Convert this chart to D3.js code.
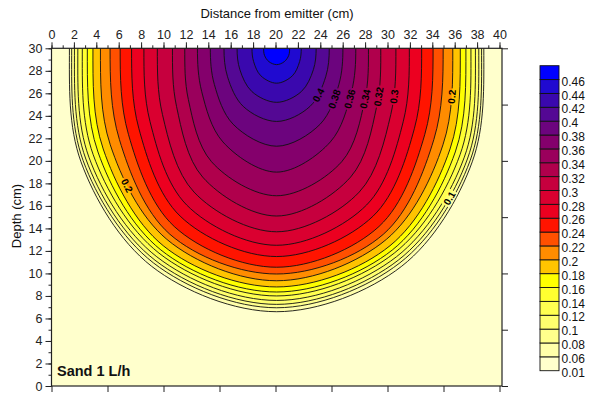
<!DOCTYPE html>
<html>
<head>
<meta charset="utf-8">
<script src="https://cdn.jsdelivr.net/npm/d3@7"></script>
<style>
  html, body { margin: 0; padding: 0; background: #fff; }
  svg { display: block; }
  text { font-family: "Liberation Sans", Arial, Helvetica, sans-serif; }
</style>
</head>
<body>
<svg id="chart" width="592" height="394"></svg>
<script>
// ---- Data -------------------------------------------------------------
// Water-content contour levels (cm3/cm3)
const levels = [0.06, 0.08, 0.10, 0.12, 0.14, 0.16, 0.18, 0.20, 0.22, 0.24, 0.26,
                0.28, 0.30, 0.32, 0.34, 0.36, 0.38, 0.40, 0.42, 0.44, 0.46];
// Lowest class bound shown in the colour scale
const minValue = 0.01;
// Fill for each class: [0.01-0.06], [0.06-0.08], ... , [>0.46]
const bandColors = ["#FFFFCC", "#FFFFAA", "#FFFF8C", "#FFFF6E", "#FFFF50", "#FFFF30",
                    "#FFFF00", "#FFC400", "#FF8C00", "#FF5000", "#FF1400", "#EC0020",
                    "#DA0030", "#C6003E", "#B0004C", "#9A005C", "#84006C", "#6C047E",
                    "#540894", "#3A08AE", "#200AD0", "#0000FF"];
// Emitter position (cm) and soil surface coordinate (cm)
const emitterX = 20.1;
const surfaceY = 30;
// Directions (degrees below the surface) at which each contour's distance is given
const contourAngles = [0, 30, 60, 90];
// Distance (cm) from the emitter to each contour line along those directions
const contourRadii = [
  [18.50, 20.17, 22.35, 23.40],  // 0.06
  [18.30, 19.95, 22.01, 23.05],  // 0.08
  [18.05, 19.67, 21.73, 22.75],  // 0.10
  [17.75, 19.35, 21.39, 22.40],  // 0.12
  [17.35, 18.91, 21.01, 22.00],  // 0.14
  [16.90, 18.42, 20.68, 21.65],  // 0.16
  [16.40, 17.88, 20.25, 21.20],  // 0.18
  [15.73, 17.15, 19.60, 20.65],  // 0.20
  [14.87, 16.21, 19.07, 20.05],  // 0.22
  [13.97, 15.28, 18.28, 19.45],  // 0.24
  [12.95, 14.21, 17.22, 18.50],  // 0.26
  [11.85, 13.05, 16.07, 17.50],  // 0.28
  [10.65, 11.77, 14.75, 16.30],  // 0.30
  [ 9.30, 10.32, 13.21, 14.90],  // 0.32
  [ 8.20,  9.10, 11.63, 13.10],  // 0.34
  [ 7.07,  7.72,  9.60, 11.00],  // 0.36
  [ 5.92,  6.42,  7.78,  8.70],  // 0.38
  [ 4.70,  5.06,  5.96,  6.50],  // 0.40
  [ 3.53,  3.79,  4.43,  4.80],  // 0.42
  [ 2.20,  2.37,  2.82,  3.10],  // 0.44
  [ 1.16,  1.25,  1.37,  1.45]   // 0.46
];
// Axis ticks
const xMajorTicks = d3.range(0, 41, 2);
const xMinorTicks = d3.range(0, 41, 1);
const yMajorTicks = d3.range(0, 31, 2);
const yMinorTicks = d3.range(0, 31, 1);
const xFrameTicks = d3.range(0, 41, 5);
const yFrameTicks = d3.range(0, 31, 5);
// Text
const xTitle = "Distance from emitter (cm)";
const yTitle = "Depth (cm)";
const panelTitle = "Sand 1 L/h";

// ---- Layout -----------------------------------------------------------
const svg = d3.select("#chart");
const frame = { left: 51.5, top: 48.3, right: 502, bottom: 386 };
const x = d3.scaleLinear().domain([0, 40]).range([51.5, 499.5]);
const y = d3.scaleLinear().domain([0, 30]).range([386, 48.3]);

const defs = svg.append("defs");
defs.append("clipPath").attr("id", "plotClip")
  .append("rect")
  .attr("x", frame.left).attr("y", frame.top)
  .attr("width", frame.right - frame.left).attr("height", frame.bottom - frame.top);

// Closed outline of one contour: lower half from the given radii, mirrored above
// the surface so the curve meets the surface square-on (the mirror is clipped).
function outlinePoints(r) {
  const a = contourAngles, pts = [];
  a.forEach((d, j) => pts.push([d, r[j]]));
  for (let j = a.length - 2; j >= 0; j--) pts.push([180 - a[j], r[j]]);
  for (let j = 1; j < a.length; j++) pts.push([180 + a[j], r[j]]);
  for (let j = a.length - 2; j >= 1; j--) pts.push([360 - a[j], r[j]]);
  return pts.map(([deg, rr]) => {
    const t = deg * Math.PI / 180;
    return [emitterX + rr * Math.cos(t), surfaceY - rr * Math.sin(t)];
  });
}
const outline = d3.line()
  .x(d => x(d[0])).y(d => y(d[1]))
  .curve(d3.curveCatmullRomClosed.alpha(0.5));

const plot = svg.append("g").attr("clip-path", "url(#plotClip)");
plot.append("rect")
  .attr("x", frame.left).attr("y", frame.top)
  .attr("width", frame.right - frame.left).attr("height", frame.bottom - frame.top)
  .attr("fill", bandColors[0]);

plot.append("g").selectAll("path").data(levels).join("path")
  .attr("d", (d, i) => outline(outlinePoints(contourRadii[i])))
  .attr("fill", (d, i) => bandColors[i + 1]);

const lineLayer = plot.append("g").attr("mask", "url(#labelMask)");
const lines = lineLayer.selectAll("path").data(levels).join("path")
  .attr("d", (d, i) => outline(outlinePoints(contourRadii[i])))
  .attr("fill", "none")
  .attr("stroke", "#111")
  .attr("stroke-width", 0.9);

// ---- Contour labels (placed where each line crosses a given depth) ------
const labelSpots = [
  { level: 0.40, depth: 25.85, side: 1 }, { level: 0.38, depth: 25.5, side: 1 },
  { level: 0.36, depth: 25.5, side: 1 },  { level: 0.34, depth: 25.5, side: 1 },
  { level: 0.32, depth: 25.7, side: 1 },  { level: 0.30, depth: 25.7, side: 1 },
  { level: 0.20, depth: 25.7, side: 1 },  { level: 0.10, depth: 16.7, side: 1 },
  { level: 0.20, depth: 17.8, side: -1 }
];
const cxPx = x(emitterX), cyPx = y(surfaceY);
const mask = defs.append("mask").attr("id", "labelMask").attr("maskUnits", "userSpaceOnUse")
  .attr("x", 0).attr("y", 0).attr("width", 592).attr("height", 394);
mask.append("rect").attr("width", 592).attr("height", 394).attr("fill", "#fff");
const labelLayer = svg.append("g").attr("clip-path", "url(#plotClip)");

labelSpots.forEach(spot => {
  const node = lines.nodes()[levels.indexOf(spot.level)];
  const len = node.getTotalLength();
  const n = 1500, targetY = y(spot.depth);
  let best = 0, bestErr = Infinity;
  for (let k = 0; k < n; k++) {
    const p = node.getPointAtLength(len * k / n);
    if (p.y < cyPx || (p.x - cxPx) * spot.side <= 0) continue;
    const err = Math.abs(p.y - targetY);
    if (err < bestErr) { bestErr = err; best = k; }
  }
  const p = node.getPointAtLength(len * best / n);
  const p0 = node.getPointAtLength(len * ((best - 4 + n) % n) / n);
  const p1 = node.getPointAtLength(len * ((best + 4) % n) / n);
  let rot = Math.atan2(p1.y - p0.y, p1.x - p0.x) * 180 / Math.PI;
  if (rot > 90) rot -= 180;
  if (rot <= -90) rot += 180;
  const t = labelLayer.append("text")
    .attr("transform", `translate(${p.x},${p.y}) rotate(${rot})`)
    .attr("text-anchor", "middle").attr("dy", "0.36em")
    .attr("font-size", 10).attr("font-weight", "bold").attr("fill", "#000")
    .text(String(spot.level));
  const w = t.node().getComputedTextLength();
  mask.append("rect")
    .attr("transform", `translate(${p.x},${p.y}) rotate(${rot})`)
    .attr("x", -w / 2 - 1.5).attr("y", -5).attr("width", w + 3).attr("height", 10)
    .attr("fill", "#000");
});

// ---- Frame and axes -----------------------------------------------------
svg.append("rect")
  .attr("x", frame.left).attr("y", frame.top)
  .attr("width", frame.right - frame.left).attr("height", frame.bottom - frame.top)
  .attr("fill", "none").attr("stroke", "#222").attr("stroke-width", 1.2);

function styleAxis(g, size) {
  g.select(".domain").remove();
  g.selectAll("line").attr("stroke", "#222").attr("stroke-width", 1);
  g.selectAll("text").attr("font-size", size).attr("fill", "#222")
    .attr("font-family", '"Liberation Sans", Arial, sans-serif');
  g.attr("font-family", null).attr("font-size", null);
}

svg.append("g").attr("transform", `translate(0,${frame.top})`)
  .call(d3.axisTop(x).tickValues(xMinorTicks).tickSize(3).tickFormat(""))
  .call(g => styleAxis(g, 12));
svg.append("g").attr("transform", `translate(0,${frame.top})`)
  .call(d3.axisTop(x).tickValues(xMajorTicks).tickSize(6).tickPadding(3).tickFormat(d3.format("d")))
  .call(g => styleAxis(g, 12.5));

svg.append("g").attr("transform", `translate(${frame.left},0)`)
  .call(d3.axisLeft(y).tickValues(yMinorTicks).tickSize(3).tickFormat(""))
  .call(g => styleAxis(g, 12));
svg.append("g").attr("transform", `translate(${frame.left},0)`)
  .call(d3.axisLeft(y).tickValues(yMajorTicks).tickSize(6).tickPadding(3).tickFormat(d3.format("d")))
  .call(g => styleAxis(g, 12.5));

svg.append("g").attr("transform", `translate(0,${frame.bottom})`)
  .call(d3.axisBottom(x).tickValues(xFrameTicks).tickSize(6).tickFormat(""))
  .call(g => styleAxis(g, 12));
svg.append("g").attr("transform", `translate(${frame.right},0)`)
  .call(d3.axisRight(y).tickValues(yFrameTicks).tickSize(6).tickFormat(""))
  .call(g => styleAxis(g, 12));

svg.append("text")
  .attr("x", 277).attr("y", 18).attr("text-anchor", "middle")
  .attr("font-size", 13).attr("fill", "#111").text(xTitle);
svg.append("text")
  .attr("transform", "translate(21,216) rotate(-90)").attr("text-anchor", "middle")
  .attr("font-size", 13).attr("fill", "#111").text(yTitle);
svg.append("text")
  .attr("x", 57).attr("y", 375.5)
  .attr("font-size", 14.5).attr("font-weight", "bold").attr("fill", "#111").text(panelTitle);

// ---- Colour scale -------------------------------------------------------
const bounds = [minValue].concat(levels);          // class lower bounds, bottom to top
const nBoxes = bandColors.length;
const cb = { x: 540, width: 19, top: 65.7, bottom: 370.7 };
const cbY = d3.scaleLinear().domain([0, nBoxes]).range([cb.bottom, cb.top]);
const legend = svg.append("g");
legend.selectAll("rect").data(bandColors).join("rect")
  .attr("x", cb.x).attr("width", cb.width)
  .attr("y", (d, i) => cbY(i + 1)).attr("height", (d, i) => cbY(i) - cbY(i + 1))
  .attr("fill", d => d).attr("stroke", "#111").attr("stroke-width", 0.9);
legend.selectAll("text").data(bounds).join("text")
  .attr("x", cb.x + cb.width + 2.5)
  .attr("y", (d, i) => cbY(i) + 2)
  .attr("dy", "0.35em")
  .attr("font-size", 12).attr("fill", "#111")
  .text(d => String(d));
</script>
</body>
</html>
